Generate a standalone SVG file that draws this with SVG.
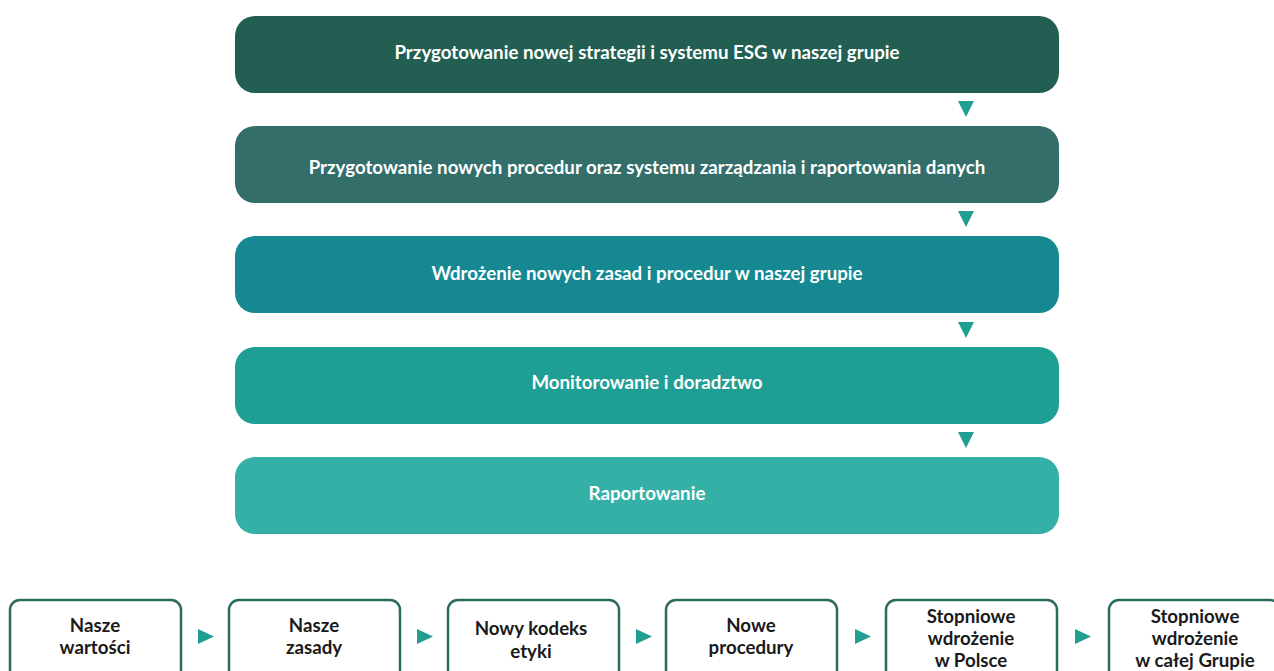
<svg xmlns="http://www.w3.org/2000/svg" width="1274" height="671" viewBox="0 0 1274 671">
<style>
.t{font-family:Lato,"Open Sans","Liberation Sans",sans-serif;font-weight:700;font-size:18.7px;text-anchor:middle}
.w{fill:#ffffff}
.k{fill:#1a1a1a}
.sb{fill:#ffffff;stroke:#2b6a5e;stroke-width:2.5}
.ar{fill:#219e92}
</style>
<rect width="1274" height="671" fill="#ffffff"/>
<g id="n1"><rect x="235" y="16" width="824" height="77" rx="20" fill="#225f52"/><text class="t w" x="647" y="59">Przygotowanie nowej strategii i systemu ESG w naszej grupie</text></g>
<g id="n2"><rect x="235" y="126" width="824" height="77" rx="20" fill="#336e6a"/><text class="t w" x="647" y="174">Przygotowanie nowych procedur oraz systemu zarządzania i raportowania danych</text></g>
<g id="n3"><rect x="235" y="236" width="824" height="77" rx="20" fill="#168892"/><text class="t w" x="647" y="280">Wdrożenie nowych zasad i procedur w naszej grupie</text></g>
<g id="n4"><rect x="235" y="347" width="824" height="77" rx="20" fill="#1f9e94"/><text class="t w" x="647" y="389">Monitorowanie i doradztwo</text></g>
<g id="n5"><rect x="235" y="457" width="824" height="77" rx="20" fill="#35b0a6"/><text class="t w" x="647" y="500">Raportowanie</text></g>
<g id="b1"><rect class="sb" x="10" y="600" width="171" height="90" rx="10"/><text class="t k" x="95" y="632">Nasze</text><text class="t k" x="95" y="654">wartości</text></g>
<g id="b2"><rect class="sb" x="229" y="600" width="171" height="90" rx="10"/><text class="t k" x="314" y="632">Nasze</text><text class="t k" x="314" y="654">zasady</text></g>
<g id="b3"><rect class="sb" x="448" y="600" width="171" height="90" rx="10"/><text class="t k" x="531" y="635">Nowy kodeks</text><text class="t k" x="531" y="658">etyki</text></g>
<g id="b4"><rect class="sb" x="666" y="600" width="171" height="90" rx="10"/><text class="t k" x="751" y="632">Nowe</text><text class="t k" x="751" y="654">procedury</text></g>
<g id="b5"><rect class="sb" x="886" y="600" width="171" height="90" rx="10"/><text class="t k" x="971" y="623">Stopniowe</text><text class="t k" x="971" y="645">wdrożenie</text><text class="t k" x="971" y="667">w Polsce</text></g>
<g id="b6"><rect class="sb" x="1109" y="600" width="171" height="90" rx="10"/><text class="t k" x="1195" y="623">Stopniowe</text><text class="t k" x="1195" y="645">wdrożenie</text><text class="t k" x="1195" y="667">w całej Grupie</text></g>
<g id="connectors">
<polygon class="ar" points="958,101 974,101 966,117"/>
<polygon class="ar" points="958,211 974,211 966,227"/>
<polygon class="ar" points="958,322 974,322 966,338"/>
<polygon class="ar" points="958,432 974,432 966,448"/>
<polygon class="ar" points="198,629 214,636.5 198,644"/>
<polygon class="ar" points="417,629 433,636.5 417,644"/>
<polygon class="ar" points="636,629 652,636.5 636,644"/>
<polygon class="ar" points="855,629 871,636.5 855,644"/>
<polygon class="ar" points="1075,629 1091,636.5 1075,644"/>
</g>
</svg>
